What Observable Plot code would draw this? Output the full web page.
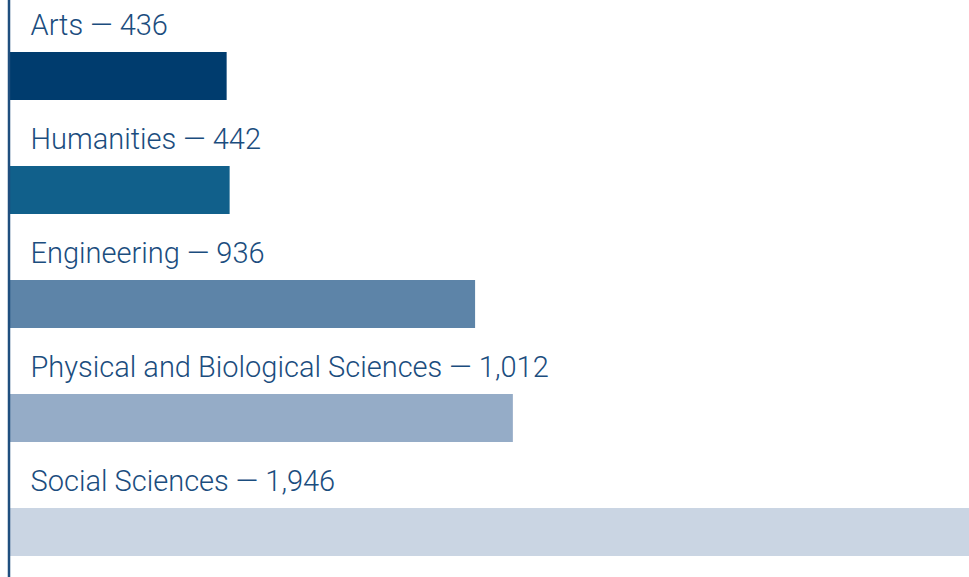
<!DOCTYPE html>
<html>
<head>
<meta charset="utf-8">
<script src="https://cdn.jsdelivr.net/npm/d3@7"></script>
<script src="https://cdn.jsdelivr.net/npm/@observablehq/plot@0.6"></script>
<style>
  html, body { margin: 0; padding: 0; background: #fff; }
  #chart svg { display: block; }
</style>
</head>
<body>
<div id="chart"></div>
<script>
const categories = ["Arts", "Humanities", "Engineering", "Physical and Biological Sciences", "Social Sciences"];
const values = [436, 442, 936, 1012, 1946];
const colors = ["#003c6e", "#11608b", "#5d84a8", "#95acc7", "#cad5e3"];

const data = categories.map((c, i) => ({category: c, value: values[i], color: colors[i]}));

const chart = Plot.plot({
  width: 969,
  height: 577,
  marginLeft: 10,
  marginRight: 0,
  marginTop: 0,
  marginBottom: 0,
  x: {domain: [0, 1930], axis: null},
  y: {domain: categories, range: [51, 557], paddingInner: 0.5808, paddingOuter: 0, axis: null},
  style: {fontFamily: "Roboto", background: "#fff"},
  marks: [
    Plot.barX(data, {x: "value", y: "category", fill: "color", clip: true}),
    Plot.text(data, {
      x: 0, y: "category",
      text: d => `${d.category} — ${d3.format(",")(d.value)}`,
      textAnchor: "start", lineAnchor: "bottom",
      dx: 20, dy: -42,
      fontSize: 29, fontWeight: 300, fill: "#1b4d7e"
    }),
    Plot.ruleX([0], {stroke: "#1f4e7e", strokeWidth: 2.5, dx: -1.5})
  ]
});
document.getElementById("chart").appendChild(chart);
</script>
</body>
</html>
